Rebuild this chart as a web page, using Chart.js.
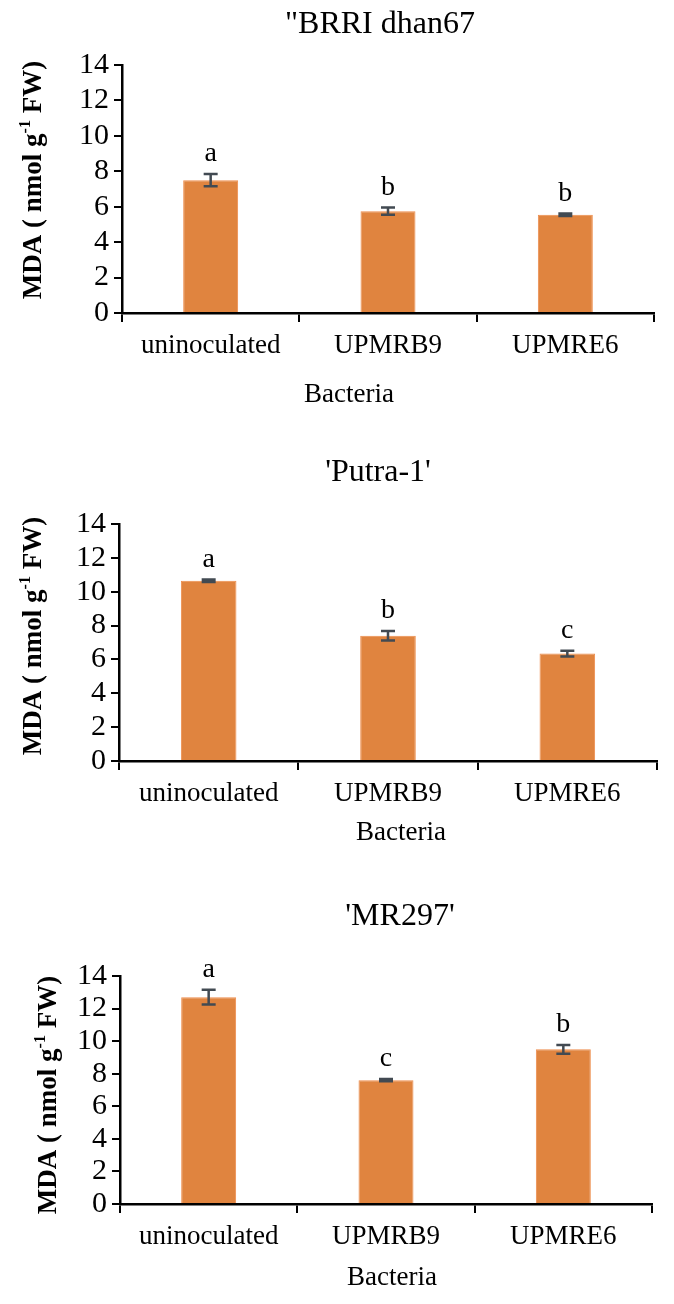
<!DOCTYPE html>
<html>
<head>
<meta charset="utf-8">
<script src="https://cdn.jsdelivr.net/npm/chart.js@4.4.0/dist/chart.umd.min.js"></script>
<style>
  body { margin: 0; background: #fff; }
  .panel { position: absolute; left: 0; width: 674px; }
</style>
</head>
<body>
<div class="panel" style="top:0;height:420px"><canvas id="c1"></canvas></div>
<div class="panel" style="top:420px;height:430px"><canvas id="c2"></canvas></div>
<div class="panel" style="top:850px;height:454px"><canvas id="c3"></canvas></div>
<script>
// data
const categories = ['uninoculated', 'UPMRB9', 'UPMRE6'];
const yMax = 14;
const yStep = 2;

const brriTitle = '"BRRI dhan67';
const brriValues = [7.5, 5.75, 5.55];
const brriErrors = [0.35, 0.2, 0.07];
const brriLetters = ['a', 'b', 'b'];

const putraTitle = "'Putra-1'";
const putraValues = [10.65, 7.4, 6.35];
const putraErrors = [0.07, 0.28, 0.17];
const putraLetters = ['a', 'b', 'c'];

const mrTitle = "'MR297'";
const mrValues = [12.7, 7.6, 9.5];
const mrErrors = [0.45, 0.07, 0.27];
const mrLetters = ['a', 'c', 'b'];

const xTitle = 'Bacteria';

const serif = "'Liberation Serif', 'Times New Roman', serif";
const barColor = '#E0843F';
const errColor = '#424a52';

// draws error bars, significance letters, titles
const extras = {
  id: 'extras',
  afterDatasetsDraw(chart, args, o) {
    const ctx = chart.ctx;
    const meta = chart.getDatasetMeta(0);
    const ys = chart.scales.y;
    ctx.save();
    ctx.strokeStyle = errColor;
    ctx.lineWidth = 2.5;
    meta.data.forEach((bar, i) => {
      const v = o.values[i], e = o.errors[i];
      const top = ys.getPixelForValue(v + e);
      const bot = ys.getPixelForValue(v - e);
      ctx.beginPath();
      ctx.moveTo(bar.x, top); ctx.lineTo(bar.x, bot);
      ctx.moveTo(bar.x - 7, top); ctx.lineTo(bar.x + 7, top);
      ctx.moveTo(bar.x - 7, bot); ctx.lineTo(bar.x + 7, bot);
      ctx.stroke();
      ctx.fillStyle = '#000';
      ctx.font = '28px ' + serif;
      ctx.textAlign = 'center';
      ctx.textBaseline = 'middle';
      ctx.fillText(o.letters[i], bar.x, top - 20);
    });
    ctx.restore();
  },
  afterDraw(chart, args, o) {
    const ctx = chart.ctx;
    const ca = chart.chartArea;
    ctx.save();
    ctx.fillStyle = '#000';
    ctx.textAlign = 'center';
    ctx.textBaseline = 'middle';
    ctx.font = '32px ' + serif;
    ctx.fillText(o.title, o.titleX, o.titleY);
    ctx.font = '27px ' + serif;
    ctx.fillText(xTitle, o.xTitleX, ca.bottom + o.xTitleDy);

    // rotated y title with superscript
    const big = 'bold 27px ' + serif, small = 'bold 16px ' + serif;
    const p1 = 'MDA ( nmol g', sup = '-1', p2 = ' FW)';
    ctx.font = big; const w1 = ctx.measureText(p1).width, w3 = ctx.measureText(p2).width;
    ctx.font = small; const w2 = ctx.measureText(sup).width;
    const total = w1 + w2 + w3;
    ctx.translate(o.yTitleX, o.yTitleY);
    ctx.rotate(-Math.PI / 2);
    ctx.textAlign = 'left';
    ctx.textBaseline = 'alphabetic';
    let x = -total / 2;
    ctx.font = big; ctx.fillText(p1, x, 9); x += w1;
    ctx.font = small; ctx.fillText(sup, x, -2); x += w2;
    ctx.font = big; ctx.fillText(p2, x, 9);
    ctx.restore();
  }
};

function makePanel(id, h, lay, ex) {
  const yW = 100, xH = 50;
  new Chart(document.getElementById(id), {
    type: 'bar',
    data: {
      labels: categories,
      datasets: [{
        data: ex.values,
        backgroundColor: barColor,
        borderColor: '#EE8D4C',
        borderWidth: 1,
        barPercentage: 0.31,
        categoryPercentage: 1
      }]
    },
    options: {
      responsive: true,
      maintainAspectRatio: false,
      animation: false,
      layout: {
        padding: { left: lay.left - yW, right: 674 - lay.right, top: lay.top, bottom: h - lay.bottom - xH }
      },
      plugins: {
        legend: { display: false },
        tooltip: { enabled: false },
        extras: ex
      },
      scales: {
        x: {
          offset: true,
          grid: { offset: true, drawOnChartArea: false, tickLength: 9, color: '#000', lineWidth: 2 },
          border: { color: '#000', width: 2.5 },
          ticks: { color: '#000', font: { family: serif, size: 27 }, padding: 8, maxRotation: 0, autoSkip: false },
          afterFit: s => { s.height = xH; }
        },
        y: {
          min: 0,
          max: yMax,
          grid: { drawOnChartArea: false, tickLength: 8, color: '#000', lineWidth: 2 },
          border: { color: '#000', width: 2.5 },
          ticks: { stepSize: yStep, color: '#000', font: { family: serif, size: 30 }, padding: 5, autoSkip: false },
          afterFit: s => { s.width = yW; }
        }
      }
    },
    plugins: [extras]
  });
}

makePanel('c1', 420, { left: 122, top: 65, right: 654, bottom: 313 }, {
  title: brriTitle, values: brriValues, errors: brriErrors, letters: brriLetters,
  titleX: 380, titleY: 25, xTitleX: 349, xTitleDy: 82, yTitleX: 32, yTitleY: 180
});
makePanel('c2', 430, { left: 119, top: 104, right: 657, bottom: 341 }, {
  title: putraTitle, values: putraValues, errors: putraErrors, letters: putraLetters,
  titleX: 378, titleY: 53, xTitleX: 401, xTitleDy: 72, yTitleX: 32, yTitleY: 216
});
makePanel('c3', 454, { left: 120, top: 126, right: 652, bottom: 354 }, {
  title: mrTitle, values: mrValues, errors: mrErrors, letters: mrLetters,
  titleX: 400, titleY: 67, xTitleX: 392, xTitleDy: 74, yTitleX: 47, yTitleY: 245
});
</script>
</body>
</html>
